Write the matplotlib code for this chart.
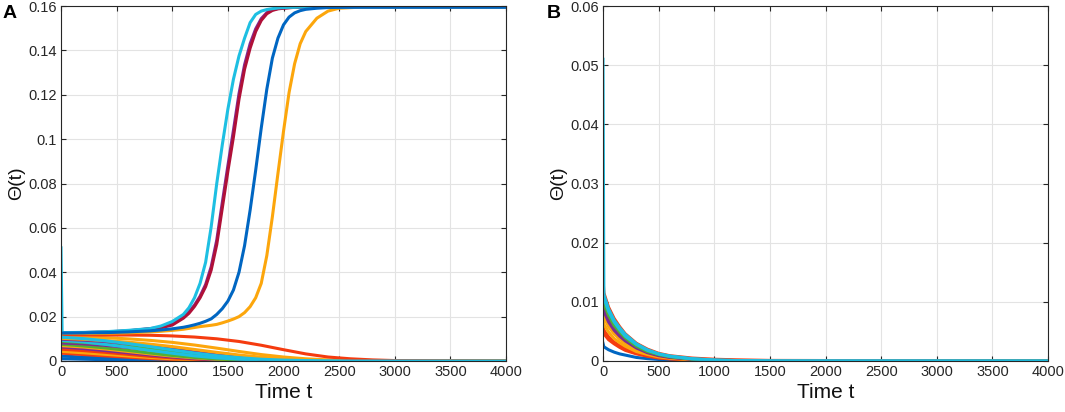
import matplotlib.pyplot as plt

# ---- panel A: curves that take off (time grid shared by these five) ----
t_rise = [0, 10, 200, 400, 600, 800, 900, 1000, 1100, 1150, 1200, 1250, 1300, 1350,
          1400, 1450, 1500, 1550, 1600, 1650, 1700, 1750, 1800, 1850, 1900, 1950,
          2000, 2050, 2100, 2150, 2200, 2300, 2400, 2500, 2700, 4000]

orange_rise = [0.0124, 0.0124, 0.0124, 0.0125, 0.0127, 0.0131, 0.0134, 0.0138, 0.0143, 0.0147,
               0.0151, 0.0155, 0.0158, 0.0161, 0.0165, 0.0172, 0.0180, 0.0189, 0.0200, 0.0218,
               0.0245, 0.0285, 0.0350, 0.0475, 0.0650, 0.0845, 0.1035, 0.1210, 0.1340, 0.1430,
               0.1485, 0.1545, 0.1577, 0.1590, 0.1595, 0.1595]
blue_rise = [0.0126, 0.0126, 0.0127, 0.0128, 0.0131, 0.0136, 0.0140, 0.0145, 0.0152, 0.0157,
             0.0163, 0.0170, 0.0179, 0.0190, 0.0210, 0.0236, 0.0270, 0.0320, 0.0400, 0.0520,
             0.0680, 0.0860, 0.1050, 0.1225, 0.1365, 0.1455, 0.1515, 0.1550, 0.1569, 0.1579,
             0.1585, 0.1590, 0.1593, 0.1594, 0.1595, 0.1595]
purple_rise = [0.0130, 0.0128, 0.0128, 0.0131, 0.0136, 0.0146, 0.0152, 0.0166, 0.0198, 0.0222,
               0.0252, 0.0292, 0.0345, 0.0425, 0.0545, 0.0715, 0.0880, 0.1040, 0.1205, 0.1335,
               0.1430, 0.1497, 0.1543, 0.1570, 0.1583, 0.1589, 0.1591, 0.1593, 0.1594, 0.1595,
               0.1595, 0.1595, 0.1595, 0.1595, 0.1595, 0.1595]
crimson_rise = [0.0130, 0.0128, 0.0128, 0.0130, 0.0135, 0.0145, 0.0150, 0.0162, 0.0193, 0.0215,
                0.0246, 0.0285, 0.0335, 0.0410, 0.0525, 0.0690, 0.0855, 0.1010, 0.1180, 0.1315,
                0.1410, 0.1485, 0.1535, 0.1565, 0.1580, 0.1587, 0.1590, 0.1592, 0.1594, 0.1594,
                0.1595, 0.1595, 0.1595, 0.1595, 0.1595, 0.1595]
cyan_rise = [0.0510, 0.0128, 0.0129, 0.0132, 0.0138, 0.0146, 0.0158, 0.0178, 0.0210, 0.0240,
             0.0285, 0.0350, 0.0445, 0.0605, 0.0800, 0.0975, 0.1135, 0.1270, 0.1375, 0.1455,
             0.1525, 0.1562, 0.1577, 0.1584, 0.1588, 0.1591, 0.1593, 0.1594, 0.1594, 0.1595,
             0.1595, 0.1595, 0.1595, 0.1595, 0.1595, 0.1595]

# ---- panel A: curves that die out ----
t_fall = [0, 10, 200, 400, 600, 800, 1000, 1200, 1400, 1600, 1800, 2000, 2200, 2400,
          2600, 2800, 3000, 4000]

red_late = [0.0120, 0.0118, 0.0118, 0.0117, 0.0117, 0.0116, 0.0113, 0.0108, 0.0100, 0.0088,
            0.0071, 0.0051, 0.0032, 0.0018, 0.0010, 0.0005, 0.0002, 0.0]
orange_fa = [0.0115, 0.0112, 0.0109, 0.0105, 0.0100, 0.0093, 0.0084, 0.0072, 0.0058, 0.0043,
             0.0029, 0.0018, 0.0010, 0.0005, 0.0002, 0.0001, 0.0, 0.0]
orange_fb = [0.0106, 0.0102, 0.0098, 0.0092, 0.0085, 0.0076, 0.0065, 0.0052, 0.0039, 0.0027,
             0.0017, 0.0010, 0.0005, 0.0002, 0.0001, 0.0, 0.0, 0.0]
purple_fa = [0.0102, 0.0098, 0.0094, 0.0088, 0.0079, 0.0068, 0.0055, 0.0041, 0.0028, 0.0018,
             0.0010, 0.0005, 0.0002, 0.0001, 0.0, 0.0, 0.0, 0.0]
green_fa = [0.0092, 0.0089, 0.0084, 0.0076, 0.0066, 0.0054, 0.0041, 0.0029, 0.0019, 0.0012,
            0.0006, 0.0003, 0.0001, 0.0, 0.0, 0.0, 0.0, 0.0]
purple_fb = [0.0086, 0.0081, 0.0077, 0.0070, 0.0061, 0.0050, 0.0038, 0.0027, 0.0017, 0.0010,
             0.0005, 0.0002, 0.0001, 0.0, 0.0, 0.0, 0.0, 0.0]
green_fb = [0.0081, 0.0075, 0.0068, 0.0059, 0.0048, 0.0036, 0.0025, 0.0016, 0.0009, 0.0005,
            0.0002, 0.0001, 0.0, 0.0, 0.0, 0.0, 0.0, 0.0]
orange_fc = [0.0076, 0.0069, 0.0063, 0.0054, 0.0043, 0.0032, 0.0022, 0.0014, 0.0008, 0.0004,
             0.0002, 0.0001, 0.0, 0.0, 0.0, 0.0, 0.0, 0.0]
purple_fc = [0.0071, 0.0063, 0.0056, 0.0047, 0.0037, 0.0027, 0.0018, 0.0011, 0.0006, 0.0003,
             0.0001, 0.0, 0.0, 0.0, 0.0, 0.0, 0.0, 0.0]
red_fb = [0.0062, 0.0053, 0.0047, 0.0039, 0.0030, 0.0021, 0.0014, 0.0008, 0.0004, 0.0002,
          0.0001, 0.0, 0.0, 0.0, 0.0, 0.0, 0.0, 0.0]
orange_fd = [0.0052, 0.0043, 0.0037, 0.0030, 0.0023, 0.0016, 0.0010, 0.0006, 0.0003, 0.0001,
             0.0, 0.0, 0.0, 0.0, 0.0, 0.0, 0.0, 0.0]
red_fc = [0.0042, 0.0035, 0.0029, 0.0023, 0.0017, 0.0011, 0.0007, 0.0004, 0.0002, 0.0001,
          0.0, 0.0, 0.0, 0.0, 0.0, 0.0, 0.0, 0.0]
blue_fa = [0.0026, 0.0022, 0.0018, 0.0014, 0.0010, 0.0007, 0.0004, 0.0002, 0.0001, 0.0,
           0.0, 0.0, 0.0, 0.0, 0.0, 0.0, 0.0, 0.0]
blue_fb = [0.0013, 0.0010, 0.0008, 0.0006, 0.0004, 0.0003, 0.0002, 0.0001, 0.0, 0.0,
           0.0, 0.0, 0.0, 0.0, 0.0, 0.0, 0.0, 0.0]
cyan_fb = [0.0096, 0.0093, 0.0086, 0.0075, 0.0062, 0.0048, 0.0035, 0.0023, 0.0014, 0.0008,
           0.0004, 0.0002, 0.0001, 0.0, 0.0, 0.0, 0.0, 0.0]
cyan_fa = [0.0110, 0.0107, 0.0101, 0.0091, 0.0079, 0.0065, 0.0050, 0.0036, 0.0024, 0.0015,
           0.0008, 0.0004, 0.0002, 0.0001, 0.0, 0.0, 0.0, 0.0]

# ---- panel B: everything dies out ----
t_b = [0, 8, 50, 100, 150, 200, 300, 400, 500, 600, 800, 1000, 1200, 1500, 4000]

blue_b1 = [0.0030, 0.0024, 0.0019, 0.0015, 0.0012, 0.0010, 0.0006, 0.0004, 0.00026, 0.00018,
           0.00008, 0.00004, 0.00002, 0.0, 0.0]
red_b1 = [0.0060, 0.0046, 0.0036, 0.0029, 0.0023, 0.0018, 0.0012, 0.0008, 0.0005, 0.00035,
          0.00016, 0.00007, 0.00003, 0.00001, 0.0]
red_b2 = [0.0070, 0.0052, 0.0041, 0.0032, 0.0026, 0.0021, 0.0014, 0.0009, 0.0006, 0.0004,
          0.00018, 0.00008, 0.00004, 0.00001, 0.0]
orange_b1 = [0.0085, 0.0062, 0.0049, 0.0038, 0.0031, 0.0025, 0.0016, 0.0011, 0.0007, 0.00047,
             0.00022, 0.00009, 0.00004, 0.00001, 0.0]
orange_b2 = [0.0100, 0.0074, 0.0058, 0.0046, 0.0037, 0.0030, 0.0019, 0.0013, 0.0008, 0.00055,
             0.00026, 0.00011, 0.00005, 0.00001, 0.0]
purple_b1 = [0.0110, 0.0084, 0.0066, 0.0052, 0.0042, 0.0034, 0.0022, 0.0014, 0.0009, 0.0006,
             0.0003, 0.00013, 0.00006, 0.00002, 0.0]
purple_b2 = [0.0120, 0.0091, 0.0072, 0.0056, 0.0046, 0.0036, 0.0024, 0.0015, 0.0010, 0.00068,
             0.00032, 0.00014, 0.00006, 0.00002, 0.0]
green_b1 = [0.0125, 0.0097, 0.0077, 0.0060, 0.0049, 0.0039, 0.0025, 0.0016, 0.0011, 0.00073,
            0.00034, 0.00015, 0.00007, 0.00002, 0.0]
green_b2 = [0.0130, 0.0102, 0.0081, 0.0063, 0.0051, 0.0041, 0.0027, 0.0017, 0.0011, 0.00077,
            0.00036, 0.00015, 0.00007, 0.00002, 0.0]
cyan_b1 = [0.0135, 0.0106, 0.0084, 0.0066, 0.0053, 0.0042, 0.0028, 0.0018, 0.0012, 0.0008,
           0.00037, 0.00016, 0.00007, 0.00002, 0.0]
red_b3 = [0.0140, 0.0115, 0.0091, 0.0072, 0.0058, 0.0046, 0.0030, 0.0020, 0.0013, 0.0009,
          0.0005, 0.0003, 0.0002, 0.0001, 0.0]
cyan_b2 = [0.0510, 0.0112, 0.0088, 0.0069, 0.0056, 0.0045, 0.0029, 0.0019, 0.0012, 0.00084,
           0.00039, 0.00017, 0.00008, 0.00002, 0.0]

x_ticks = [0, 500, 1000, 1500, 2000, 2500, 3000, 3500, 4000]
a_yticks = [0, 0.02, 0.04, 0.06, 0.08, 0.1, 0.12, 0.14, 0.16]
b_yticks = [0, 0.01, 0.02, 0.03, 0.04, 0.05, 0.06]

# colours: MATLAB default order, as they look in the figure
BLUE = "#0066c2"
RED = "#f53b0f"
ORANGE = "#fca60c"
PURPLE = "#7e2a92"
GREEN = "#52b032"
CYAN = "#1dbfe2"
CRIMSON = "#b01038"
AXCOL = "#262626"

plt.rcParams["font.family"] = ["Liberation Sans", "DejaVu Sans"]
LW = 2.2

fig = plt.figure(figsize=(10.65, 4.12), dpi=100)
fig.patch.set_facecolor("white")
ax_a = fig.add_axes([61 / 1065, 51 / 412, 445 / 1065, 355 / 412])
ax_b = fig.add_axes([603 / 1065, 51 / 412, 445 / 1065, 355 / 412])

falling_a = [
    (blue_fb, BLUE), (blue_fa, BLUE), (red_fc, RED), (orange_fd, ORANGE),
    (red_fb, RED), (purple_fc, PURPLE), (orange_fc, ORANGE), (green_fb, GREEN),
    (purple_fb, PURPLE), (green_fa, GREEN), (cyan_fb, CYAN), (purple_fa, PURPLE),
    (orange_fb, ORANGE), (orange_fa, ORANGE), (red_late, RED), (cyan_fa, CYAN),
]
for vals, col in falling_a:
    ax_a.plot(t_fall, vals, color=col, linewidth=LW, solid_joinstyle="round")

# blue last so it is the colour left on the plateau, as in the figure
rising_a = [(orange_rise, ORANGE), (purple_rise, PURPLE), (crimson_rise, CRIMSON),
            (cyan_rise, CYAN), (blue_rise, BLUE)]
for vals, col in rising_a:
    ax_a.plot(t_rise, vals, color=col, linewidth=LW, solid_joinstyle="round")

falling_b = [
    (blue_b1, BLUE), (red_b1, RED), (red_b2, RED), (orange_b1, ORANGE),
    (orange_b2, ORANGE), (purple_b1, PURPLE), (purple_b2, PURPLE), (green_b1, GREEN),
    (green_b2, GREEN), (red_b3, RED), (cyan_b1, CYAN), (cyan_b2, CYAN),
]
for vals, col in falling_b:
    ax_b.plot(t_b, vals, color=col, linewidth=LW, solid_joinstyle="round")


def matlab_label(v):
    # MATLAB drops trailing zeros: 0.10 -> 0.1
    return f"{v:.2f}".rstrip("0").rstrip(".")


for ax, yt, ymax in [(ax_a, a_yticks, 0.16), (ax_b, b_yticks, 0.06)]:
    ax.set_xlim(0, 4000)
    ax.set_ylim(0, ymax)
    ax.set_xticks(x_ticks)
    ax.set_yticks(yt)
    ax.set_yticklabels([matlab_label(v) for v in yt])
    ax.grid(True, color="#e3e3e3", linewidth=0.8)
    ax.set_axisbelow(True)
    ax.tick_params(direction="in", top=True, right=True, length=3.5, width=0.8,
                   colors=AXCOL, labelsize=10.5, pad=3)
    for sp in ax.spines.values():
        sp.set_color(AXCOL)
        sp.set_linewidth(0.8)

# axis titles and panel letters
fig.text(283.5 / 1065, 19 / 412, "Time t", ha="center", va="center", fontsize=15, color="#111111")
fig.text(825.5 / 1065, 19 / 412, "Time t", ha="center", va="center", fontsize=15, color="#111111")
fig.text(17 / 1065, 229 / 412, "\u0398(t)", ha="center", va="center", rotation=90,
         fontsize=14, color="#111111")
fig.text(559 / 1065, 229 / 412, "\u0398(t)", ha="center", va="center", rotation=90,
         fontsize=14, color="#111111")
fig.text(3 / 1065, 407 / 412, "A", ha="left", va="top", fontsize=14, fontweight="bold")
fig.text(547 / 1065, 407 / 412, "B", ha="left", va="top", fontsize=14, fontweight="bold")

fig.savefig("out.png", dpi=100, facecolor="white")
